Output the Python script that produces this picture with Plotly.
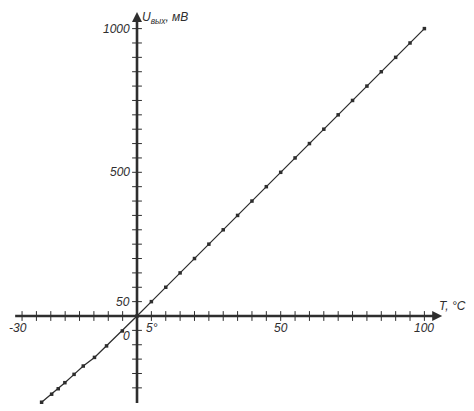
import plotly.graph_objects as go

# Data (temperature °C, output voltage mV)
temps = [-33.2, -29.7, -27.4, -25.1, -21.9, -18.7, -14.8, -10.6, -5.1, 0,
         5, 10, 15, 20, 25, 30, 35, 40, 45, 50, 55, 60, 65, 70, 75, 80, 85, 90, 95, 100]
volts = [-300, -272, -253, -232, -203, -174, -144, -104, -52, 0,
         50, 100, 150, 200, 250, 300, 350, 400, 450, 500, 550, 600, 650, 700, 750, 800, 850, 900, 950, 1000]

# Axis ticks
x_ticks = [-40, -35, -30, -25, -20, -15, -10, -5, 5, 10, 15, 20, 25, 30, 35, 40, 45, 50,
           55, 60, 65, 70, 75, 80, 85, 90, 95, 100]
y_ticks = [-250, -200, -150, -100, -50, 50, 100, 150, 200, 250, 300, 350, 400, 450, 500,
           550, 600, 650, 700, 750, 800, 850, 900, 950, 1000]

# Tick labels (text, x, y)
x_label_text = ["-30", "5°", "50", "100"]
x_label_pos = [-41.4, 5.3, 50, 100]
y_label_text = ["1000", "500", "50", "0"]
y_label_pos = [1000, 500, 50, -70]

x_axis_ends = [-42.4, 106.2]
y_axis_ends = [-303, 1058]

INK = "#2e2e2e"
FONT = "Liberation Sans"

fig = go.Figure()

# axis lines
shapes = [
    dict(type="line", xref="x", yref="y", x0=x_axis_ends[0], x1=x_axis_ends[1] - 2,
         y0=0, y1=0, line=dict(color=INK, width=2.6)),
    dict(type="line", xref="x", yref="y", x0=0, x1=0, y0=y_axis_ends[0],
         y1=y_axis_ends[1] - 20, line=dict(color=INK, width=2.6)),
]

# arrow heads (tip of the "arrow" symbol sits on the point)
fig.add_trace(go.Scatter(x=[x_axis_ends[1]], y=[0], mode="markers",
                         marker=dict(symbol="arrow-right", size=10, color=INK,
                                     line=dict(width=0)),
                         hoverinfo="skip", showlegend=False))
fig.add_trace(go.Scatter(x=[0], y=[y_axis_ends[1]], mode="markers",
                         marker=dict(symbol="arrow-up", size=10, color=INK,
                                     line=dict(width=0)),
                         hoverinfo="skip", showlegend=False))

# ticks
fig.add_trace(go.Scatter(x=x_ticks, y=[0] * len(x_ticks), mode="markers",
                         marker=dict(symbol="line-ns", size=7, line=dict(width=1, color=INK)),
                         hoverinfo="skip", showlegend=False))
fig.add_trace(go.Scatter(x=[0] * len(y_ticks), y=y_ticks, mode="markers",
                         marker=dict(symbol="line-ew", size=7, line=dict(width=1, color=INK)),
                         hoverinfo="skip", showlegend=False))

# the characteristic
fig.add_trace(go.Scatter(x=temps, y=volts, mode="lines+markers",
                         line=dict(color=INK, width=1.3),
                         marker=dict(symbol="square", size=3.5, color=INK),
                         showlegend=False))

annotations = []
for t, xp in zip(x_label_text, x_label_pos):
    annotations.append(dict(x=xp, y=-42, xref="x", yref="y", text="<i>%s</i>" % t,
                            showarrow=False, font=dict(family=FONT, size=12, color=INK)))
for t, yp in zip(y_label_text, y_label_pos):
    annotations.append(dict(x=-1.6, y=yp, xref="x", yref="y", text="<i>%s</i>" % t,
                            xanchor="right", showarrow=False,
                            font=dict(family=FONT, size=12, color=INK)))

annotations.append(dict(x=104.5, y=35, xref="x", yref="y", text="<i>T, °C</i>",
                        xanchor="left", showarrow=False, font=dict(family=FONT, size=12, color=INK)))
annotations.append(dict(x=1.2, y=1.0, xref="x", yref="paper", yanchor="top",
                        text="<i>U<sub>вых</sub>, мВ</i>",
                        xanchor="left", showarrow=False, font=dict(family=FONT, size=12, color=INK)))

# page body adds an 8px margin, so the figure is 466x403 and ranges account for it
fig.update_layout(
    width=466, height=403, autosize=False,
    margin=dict(l=0, r=0, t=0, b=0),
    paper_bgcolor="white", plot_bgcolor="white",
    xaxis=dict(range=[-44.89, 117.26], visible=False, fixedrange=True),
    yaxis=dict(range=[-330.5, 1071.7], visible=False, fixedrange=True),
    shapes=shapes,
    annotations=annotations,
)

fig.write_html("out.html")
